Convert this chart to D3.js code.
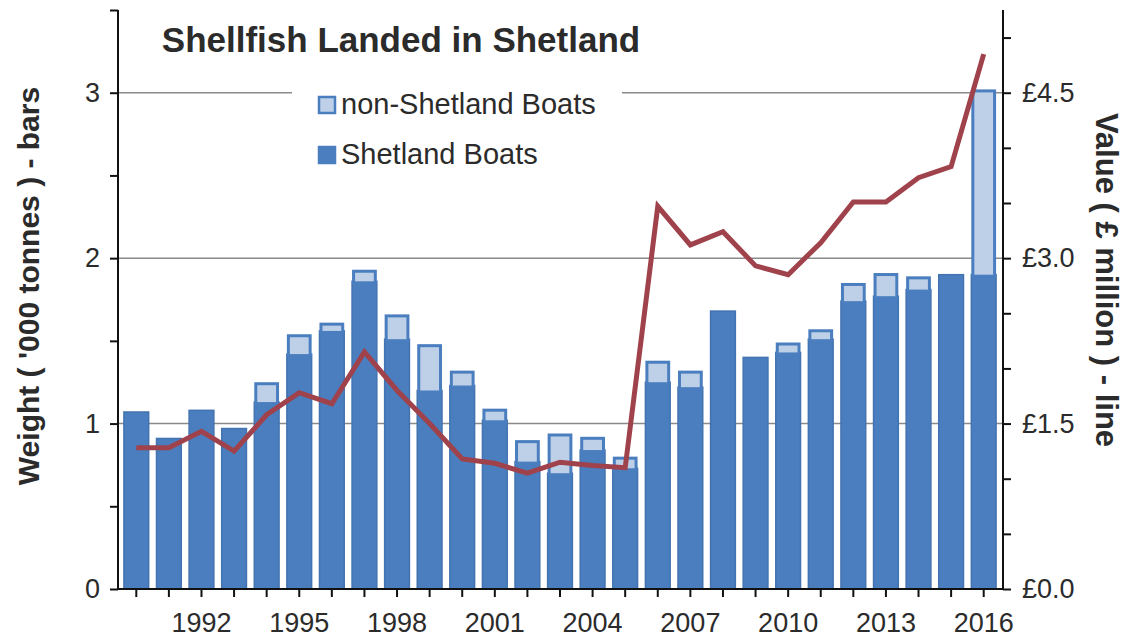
<!DOCTYPE html>
<html lang="en">
<head>
<meta charset="utf-8">
<title>Shellfish Landed in Shetland</title>
<script src="https://cdn.jsdelivr.net/npm/d3@7"></script>
<style>
  body { margin: 0; background: #fff; }
  text { font-family: "Liberation Sans", Arial, sans-serif; fill: #2b2b2b; }
  .axis path, .axis line { stroke: #111; stroke-width: 2; fill: none; }
  .axis text { font-size: 27px; }
</style>
</head>
<body>
<script>
// data
var years = d3.range(1990, 2017);
var shetland    = [1.07, 0.91, 1.08, 0.97, 1.13, 1.42, 1.56, 1.86, 1.51, 1.20,
                   1.23, 1.02, 0.77, 0.70, 0.84, 0.73, 1.25, 1.22, 1.68, 1.40,
                   1.43, 1.51, 1.74, 1.77, 1.81, 1.90, 1.90];
var nonShetland = [0, 0, 0, 0, 0.12, 0.12, 0.05, 0.07, 0.15, 0.28,
                   0.09, 0.07, 0.13, 0.24, 0.08, 0.07, 0.13, 0.10, 0, 0,
                   0.06, 0.06, 0.11, 0.14, 0.08, 0, 1.12];
var value       = [1.28, 1.28, 1.43, 1.25, 1.58, 1.78, 1.68, 2.15, 1.80, 1.50,
                   1.18, 1.14, 1.05, 1.15, 1.12, 1.10, 3.47, 3.12, 3.24, 2.93,
                   2.85, 3.14, 3.51, 3.51, 3.73, 3.83, 4.85];
var labelYears = [1992, 1995, 1998, 2001, 2004, 2007, 2010, 2013, 2016];

var w = 1127, h = 639;
var plotL = 118, plotR = 1003, plotT = 10, plotB = 589;

var blue = "#4a7ebf", lightBlue = "#bdd0e8", red = "#a0424b";

var svg = d3.select("body").append("svg")
    .attr("width", w)
    .attr("height", h);

var x = d3.scaleBand()
    .domain(years)
    .range([120, 1000])
    .paddingInner(0.24)
    .paddingOuter(0.12);

var y = d3.scaleLinear().domain([0, 3.5]).range([plotB, plotT]);
var y2 = d3.scaleLinear().domain([0, 5.25]).range([plotB, plotT]);

// gridlines
svg.append("g")
    .selectAll("line")
    .data([1, 2, 3])
    .enter().append("line")
    .attr("x1", plotL).attr("x2", plotR)
    .attr("y1", function(d) { return y(d); })
    .attr("y2", function(d) { return y(d); })
    .attr("stroke", "#8a8a8a")
    .attr("stroke-width", 1.5);

// bars
var rows = years.map(function(yr, i) {
    return { year: yr, s: shetland[i], n: nonShetland[i] };
});

var bars = svg.append("g");
bars.selectAll("rect.s")
    .data(rows)
    .enter().append("rect")
    .attr("class", "s")
    .attr("x", function(d) { return x(d.year); })
    .attr("width", x.bandwidth())
    .attr("y", function(d) { return y(d.s); })
    .attr("height", function(d) { return y(0) - y(d.s); })
    .attr("fill", blue)
    .attr("stroke", "#4373b1")
    .attr("stroke-width", 1.5);

bars.selectAll("rect.n")
    .data(rows.filter(function(d) { return d.n > 0; }))
    .enter().append("rect")
    .attr("class", "n")
    .attr("x", function(d) { return x(d.year) + 1.5; })
    .attr("width", x.bandwidth() - 3)
    .attr("y", function(d) { return y(d.s + d.n) + 1.5; })
    .attr("height", function(d) { return y(d.s) - y(d.s + d.n); })
    .attr("fill", lightBlue)
    .attr("stroke", blue)
    .attr("stroke-width", 3);

// value line
var line = d3.line()
    .x(function(d, i) { return x(years[i]) + x.bandwidth() / 2; })
    .y(function(d) { return y2(d); });

svg.append("path")
    .datum(value)
    .attr("d", line)
    .attr("fill", "none")
    .attr("stroke", red)
    .attr("stroke-width", 5)
    .attr("stroke-linejoin", "miter");

// axes
var yAxis = d3.axisLeft(y)
    .tickValues(d3.range(0, 3.51, 0.5))
    .tickSize(8)
    .tickPadding(10)
    .tickFormat(function(d) { return d % 1 === 0 ? d : ""; });
svg.append("g")
    .attr("class", "axis")
    .attr("transform", "translate(" + plotL + ",0)")
    .call(yAxis)
    .call(function(g) { g.select(".domain").attr("d", "M0," + plotT + "V" + plotB); });

var y2Axis = d3.axisRight(y2)
    .tickValues(d3.range(0, 5.26, 0.5))
    .tickSize(8)
    .tickPadding(11)
    .tickFormat(function(d) {
        return [0, 1.5, 3, 4.5].indexOf(Math.round(d * 10) / 10) >= 0 ? "£" + d3.format(".1f")(d) : "";
    });
svg.append("g")
    .attr("class", "axis")
    .attr("transform", "translate(" + plotR + ",0)")
    .call(y2Axis)
    .call(function(g) { g.select(".domain").attr("d", "M0," + plotT + "V" + plotB); });

var xAxis = d3.axisBottom(x)
    .tickSize(8)
    .tickPadding(16)
    .tickFormat(function(d) { return labelYears.indexOf(d) >= 0 ? d : ""; });
svg.append("g")
    .attr("class", "axis")
    .attr("transform", "translate(0," + plotB + ")")
    .call(xAxis)
    .call(function(g) { g.select(".domain").attr("d", "M" + plotL + ",0H" + plotR); });

// axis titles
svg.append("text")
    .attr("transform", "translate(39,286) rotate(-90)")
    .attr("text-anchor", "middle")
    .style("font-size", "30px")
    .style("font-weight", "bold")
    .text("Weight ( '000 tonnes ) - bars");

svg.append("text")
    .attr("transform", "translate(1096,280) rotate(90)")
    .attr("text-anchor", "middle")
    .style("font-size", "31px")
    .style("font-weight", "bold")
    .text("Value ( £ million ) - line");

// title
svg.append("text")
    .attr("x", 401)
    .attr("y", 52)
    .attr("text-anchor", "middle")
    .style("font-size", "35px")
    .style("font-weight", "bold")
    .text("Shellfish Landed in Shetland");

// legend
var legend = svg.append("g");
legend.append("rect")
    .attr("x", 292).attr("y", 78)
    .attr("width", 330).attr("height", 98)
    .attr("fill", "#fff");

var items = [
    { label: "non-Shetland Boats", fill: lightBlue },
    { label: "Shetland Boats", fill: blue }
];
var li = legend.selectAll("g.item")
    .data(items)
    .enter().append("g")
    .attr("class", "item")
    .attr("transform", function(d, i) { return "translate(319," + (97 + i * 50) + ")"; });
li.append("rect")
    .attr("width", 16).attr("height", 16)
    .attr("fill", function(d) { return d.fill; })
    .attr("stroke", blue)
    .attr("stroke-width", 2.5);
li.append("text")
    .attr("x", 22)
    .attr("y", 17)
    .style("font-size", "29px")
    .text(function(d) { return d.label; });
</script>
</body>
</html>
